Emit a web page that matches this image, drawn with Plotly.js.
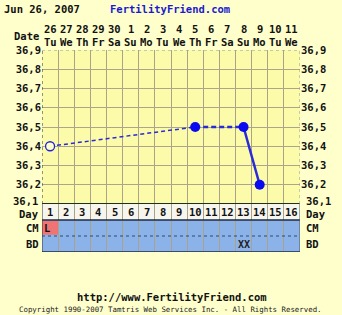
<!DOCTYPE html>
<html><head><meta charset="utf-8">
<script src="https://cdn.plot.ly/plotly-3.0.1.min.js"></script>
<style>html,body{margin:0;padding:0;background:#ffffcc;}#c{width:342px;height:315px;}</style>
</head><body><div id="c"></div>
<script>
// ---- data ----
const dateNums = ["26","27","28","29","30","1","2","3","4","5","6","7","8","9","10","11"];
const weekdays = ["Tu","We","Th","Fr","Sa","Su","Mo","Tu","We","Th","Fr","Sa","Su","Mo","Tu","We"];
const dayNums = [1,2,3,4,5,6,7,8,9,10,11,12,13,14,15,16];
const tempDays = [1,10,13,14];
const temps = [36.4,36.5,36.5,36.2];
const tempTicks = [36.2,36.3,36.4,36.5,36.6,36.7,36.8,36.9];
const tempMin = 36.1, tempMax = 36.9;
const cmDays = [1]; const cmLabels = ["L"];
const bdDays = [13]; const bdLabels = ["XX"];
const rowLabels = ["Day","CM","BD"];

const FONT = "DejaVu Sans Mono";
const lineCol = "#2a2ad8";

const traces = [
  {x: tempDays.slice(0,2), y: temps.slice(0,2), mode:"lines", line:{color:lineCol,width:1.5,dash:"4px,3px"}, hoverinfo:"skip", xaxis:"x", yaxis:"y"},
  {x: tempDays.slice(1,3), y: temps.slice(1,3), mode:"lines", line:{color:lineCol,width:2.5,dash:"5px,3px"}, hoverinfo:"skip", xaxis:"x", yaxis:"y"},
  {x: tempDays.slice(2,4), y: temps.slice(2,4), mode:"lines", line:{color:lineCol,width:2.5}, hoverinfo:"skip", xaxis:"x", yaxis:"y"},
  {x: tempDays.slice(0,1), y: temps.slice(0,1), mode:"markers", marker:{symbol:"circle", size:9, color:"#ffffcc", line:{color:"#2020e0",width:1.3}}, xaxis:"x", yaxis:"y"},
  {x: tempDays.slice(1), y: temps.slice(1), mode:"markers", marker:{symbol:"circle", size:10, color:"#0a0af0"}, xaxis:"x", yaxis:"y"},
  {x: [1], y: [36.5], mode:"markers", marker:{opacity:0}, xaxis:"x", yaxis:"y3", hoverinfo:"skip"},
  {x: [1], y: [1], mode:"markers", marker:{opacity:0}, xaxis:"x", yaxis:"y2", hoverinfo:"skip"}
];

const tickFont = {family:FONT, size:10.5, color:"#111", weight:"bold"};
const shapes = [];
const annotations = [];

// bottom rows backgrounds
shapes.push({type:"rect", xref:"x", yref:"y2", x0:0.5, x1:16.5, y0:2, y1:3, fillcolor:"#f6f6ee", line:{width:0}, layer:"below"});
shapes.push({type:"rect", xref:"x", yref:"y2", x0:0.5, x1:16.5, y0:0, y1:2, fillcolor:"#8cb2ea", line:{width:0}, layer:"below"});
cmDays.forEach(d=>shapes.push({type:"rect", xref:"x", yref:"y2", x0:d-0.5, x1:d+0.5, y0:1.08, y1:1.95, fillcolor:"#f07474", line:{width:0}, layer:"below"}));
// borders
shapes.push({type:"line", xref:"x", yref:"y", x0:0.5, x1:16.5, y0:tempMin, y1:tempMin, line:{color:"#1e3020", width:2}});
shapes.push({type:"line", xref:"x", yref:"y2", x0:0.5, x1:16.5, y0:2, y1:2, line:{color:"#1e2a40", width:1.5}});
shapes.push({type:"line", xref:"x", yref:"y2", x0:0.5, x1:16.5, y0:1, y1:1, line:{color:"#2a4a70", width:1, dash:"dot"}});
shapes.push({type:"line", xref:"x", yref:"y2", x0:0.5, x1:16.5, y0:0, y1:0, line:{color:"#1e2a40", width:1.5}});
shapes.push({type:"line", xref:"x", yref:"y", x0:0.5, x1:0.5, y0:tempMin, y1:tempMax, line:{color:"#333", width:1, dash:"dot"}});
shapes.push({type:"line", xref:"x", yref:"y", x0:16.5, x1:16.5, y0:tempMin, y1:tempMax, line:{color:"#999", width:1, dash:"dot"}});
shapes.push({type:"line", xref:"x", yref:"y", x0:0.5, x1:16.5, y0:tempMax, y1:tempMax, line:{color:"#999", width:1, dash:"dot"}});
shapes.push({type:"line", xref:"x", yref:"y2", x0:0.5, x1:0.5, y0:0, y1:3, line:{color:"#333", width:1}});
shapes.push({type:"line", xref:"x", yref:"y2", x0:16.5, x1:16.5, y0:0, y1:3, line:{color:"#555", width:1}});

const py = p => (252 - p) / 202;  // pixel y -> paper y
const px = p => (p - 42) / 258;   // pixel x -> paper x
const bold = (s,c) => ({family:FONT,size:s,color:c||"#111",weight:"bold"});

// bottom temperature label (36,1), nudged up to clear the Day row labels
[[px(40),"right"],[px(304),"left"]].forEach(([xx,anc])=>{
  annotations.push({xref:"paper", yref:"y", x:xx, y:tempMin, yshift:3, text:tempMin.toFixed(1).replace(".",","), showarrow:false, font:bold(10.5), xanchor:anc, yanchor:"middle"});
});

// top date labels + day numbers
dayNums.forEach((d,i)=>{
  annotations.push({xref:"x", yref:"paper", x:d, y:py(29), text:dateNums[i], showarrow:false, font:bold(10.5), xanchor:"center", yanchor:"middle"});
  annotations.push({xref:"x", yref:"paper", x:d, y:py(42), text:weekdays[i], showarrow:false, font:bold(10.5), xanchor:"center", yanchor:"middle"});
  annotations.push({xref:"x", yref:"y2", x:d, y:2.5, text:String(d), showarrow:false, font:bold(10.5), xanchor:"center", yanchor:"middle"});
});
annotations.push({xref:"paper", yref:"paper", x:px(41), y:py(36), text:"Date", showarrow:false, font:bold(10.5), xanchor:"right", yanchor:"middle"});
rowLabels.forEach((t,i)=>{
  const yy = 2.5 - i;
  const ys = i===0 ? -2 : 0;
  annotations.push({xref:"paper", yref:"y2", x:px(41), y:yy, yshift:ys, text:t, showarrow:false, font:bold(10.5), xanchor:"right", yanchor:"middle"});
  annotations.push({xref:"paper", yref:"y2", x:px(304), y:yy, yshift:ys, text:t, showarrow:false, font:bold(10.5), xanchor:"left", yanchor:"middle"});
});
cmDays.forEach((d,i)=>annotations.push({xref:"x", yref:"y2", x:d, y:1.5, xshift:-3, text:cmLabels[i], showarrow:false, font:bold(10.5), xanchor:"center", yanchor:"middle"}));
bdDays.forEach((d,i)=>annotations.push({xref:"x", yref:"y2", x:d, y:0.5, text:bdLabels[i], showarrow:false, font:bold(10,"#222"), xanchor:"center", yanchor:"middle"}));
// titles
annotations.push({xref:"paper", yref:"paper", x:px(2), y:py(9), text:"Jun 26, 2007", showarrow:false, font:bold(10.5), xanchor:"left", yanchor:"middle"});
annotations.push({xref:"paper", yref:"paper", x:px(170), y:py(9), text:"FertilityFriend.com", showarrow:false, font:bold(10.5,"#1a1ad0"), xanchor:"center", yanchor:"middle"});
annotations.push({xref:"paper", yref:"paper", x:px(172), y:py(297), text:"http://www.FertilityFriend.com", showarrow:false, font:bold(10.5), xanchor:"center", yanchor:"middle"});
annotations.push({xref:"paper", yref:"paper", x:px(170), y:py(309), text:"Copyright 1990-2007 Tamtris Web Services Inc. - All Rights Reserved.", showarrow:false, font:{family:FONT,size:7.4,color:"#222"}, xanchor:"center", yanchor:"middle"});

const layout = {
  width:342, height:315,
  margin:{l:42, r:42, t:50, b:63, pad:0},
  paper_bgcolor:"#ffffcc", plot_bgcolor:"#fbfbaa",
  separators:", ",
  showlegend:false,
  xaxis:{range:[0.5,16.5], tickvals:[1.5,2.5,3.5,4.5,5.5,6.5,7.5,8.5,9.5,10.5,11.5,12.5,13.5,14.5,15.5], showticklabels:false, ticks:"", showgrid:true, gridcolor:"#a8a48a", gridwidth:1, zeroline:false, fixedrange:true, anchor:"y2"},
  yaxis:{domain:[48/202,1], range:[tempMin,tempMax], tickvals:tempTicks, tickformat:".1f", tickfont:tickFont, ticks:"", showgrid:true, gridcolor:"#aca58c", gridwidth:1, zeroline:false, fixedrange:true, anchor:"x"},
  yaxis3:{overlaying:"y", side:"right", range:[tempMin,tempMax], tickvals:tempTicks, tickformat:".1f", tickfont:tickFont, ticks:"", showgrid:false, zeroline:false, fixedrange:true, anchor:"x"},
  yaxis2:{domain:[0,48/202], range:[0,3], showticklabels:false, ticks:"", showgrid:false, zeroline:false, fixedrange:true, anchor:"x"},
  shapes:shapes, annotations:annotations
};
Plotly.newPlot("c", traces, layout, {displayModeBar:false, staticPlot:true});
</script></body></html>
